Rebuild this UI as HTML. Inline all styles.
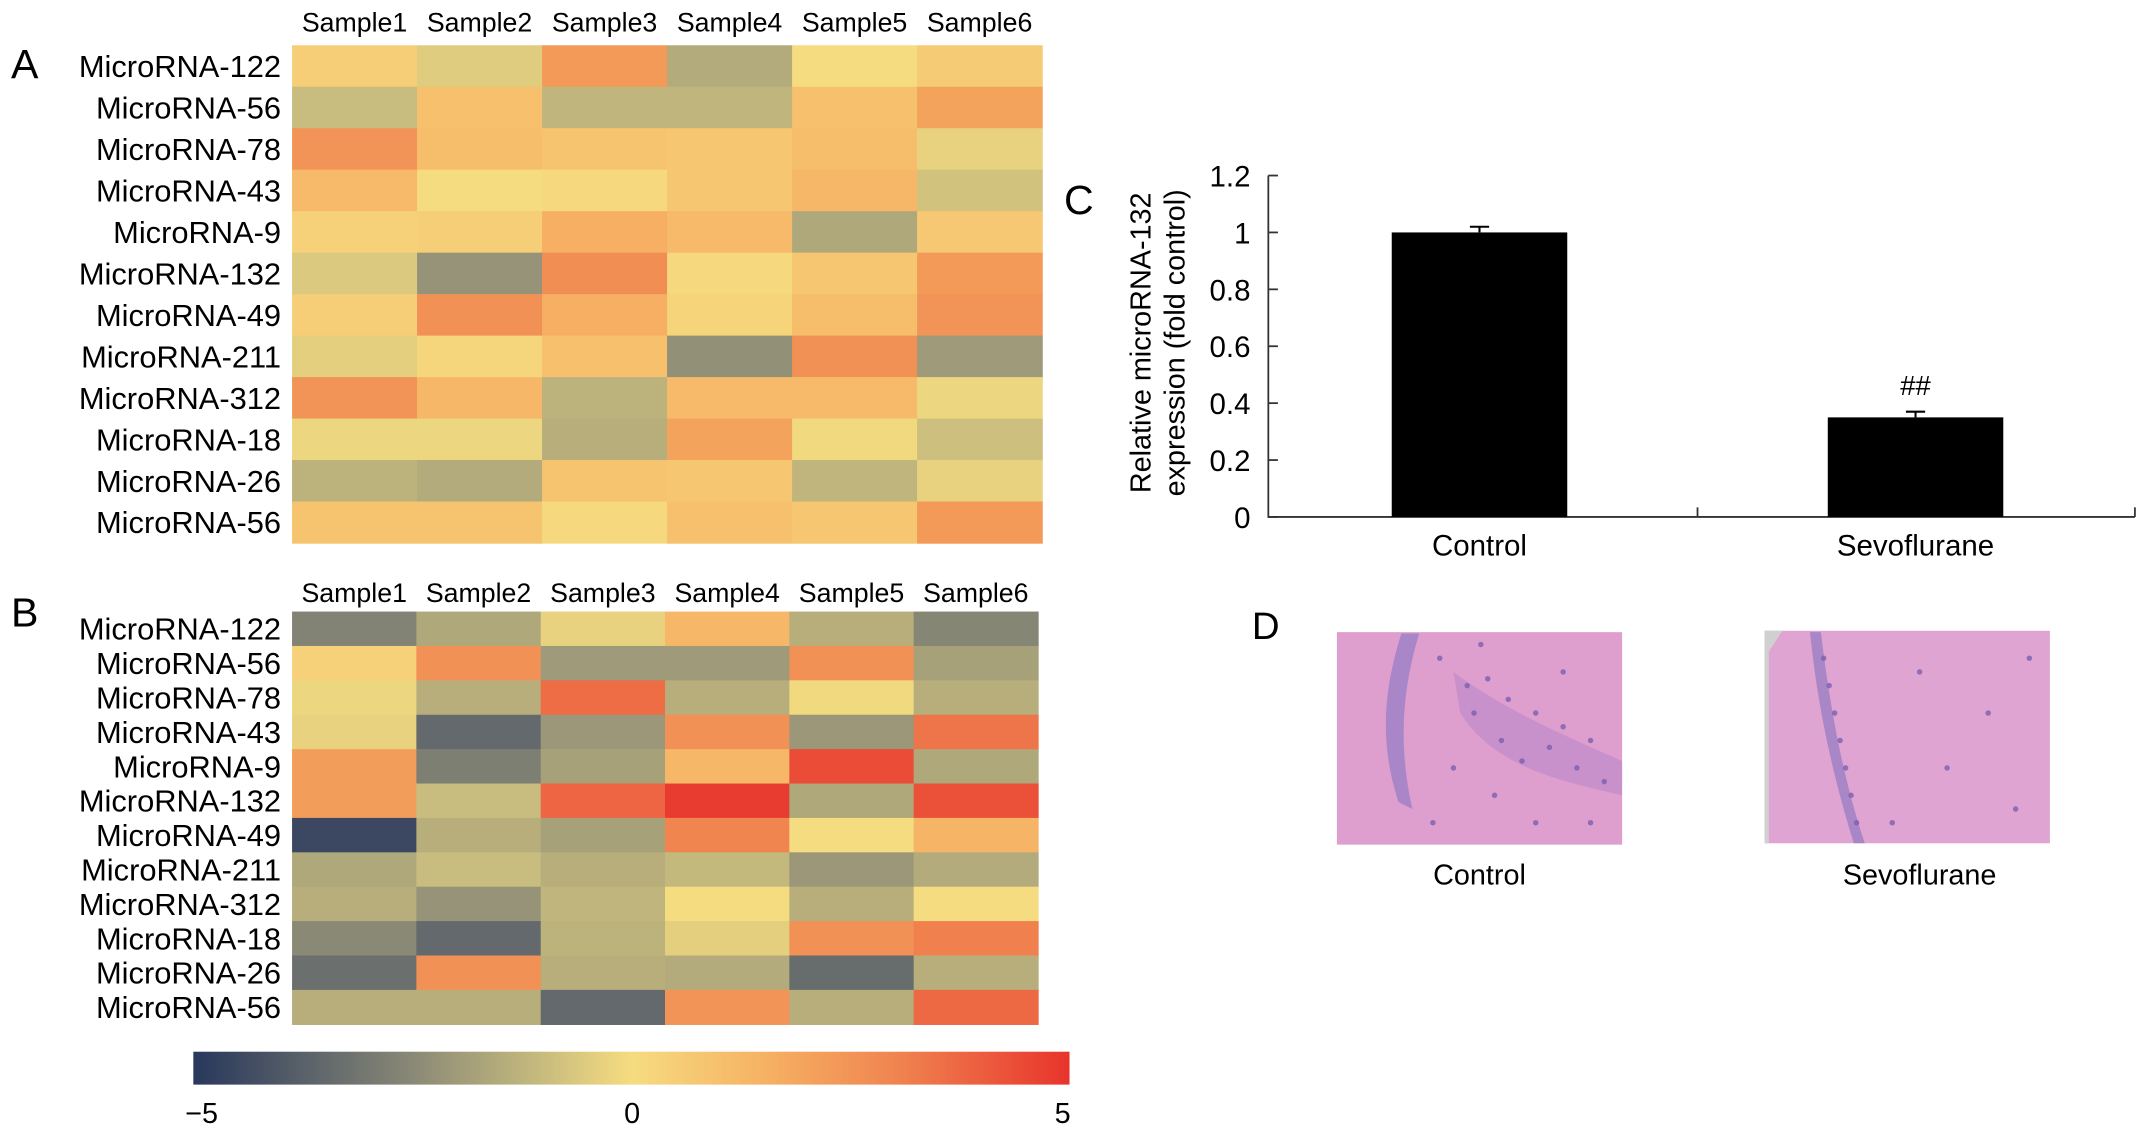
<!DOCTYPE html>
<html><head><meta charset="utf-8"><style>
html,body{margin:0;padding:0;background:#fff;}
svg{display:block;font-family:"Liberation Sans",sans-serif;}
</style></head><body>
<svg id="fig" width="2150" height="1134" viewBox="0 0 1568 827" xmlns="http://www.w3.org/2000/svg">
<g id="gA"></g>
<g id="gB"></g>
<g id="gCb"></g>
<g id="gC"></g>
<g id="gD">
  <rect x="975" y="461" width="208" height="155" fill="#de9fcf"/>
  <path d="M1022 462 C1010 500,1005 540,1020 585 L1030 590 C1020 545,1022 505,1035 462 Z" fill="#9b7fc4" opacity="0.8"/>
  <path d="M1060 490 C1100 520,1150 540,1183 555 L1183 580 C1140 570,1090 560,1065 520 Z" fill="#c08ccb" opacity="0.7"/>
  <rect x="1287" y="460" width="208" height="155" fill="#e0a4d2"/>
  <path d="M1287 460 L1300 460 L1290 475 L1290 615 L1287 615 Z" fill="#d0d0d0"/>
  <path d="M1320 461 L1328 461 C1335 520,1345 570,1360 615 L1352 615 C1338 570,1326 520,1320 461 Z" fill="#9b7fc4" opacity="0.8"/>
  <text x="913" y="466" font-size="28">D</text>
  <text x="1079" y="645" font-size="21" text-anchor="middle">Control</text>
  <text x="1400" y="645" font-size="21" text-anchor="middle">Sevoflurane</text>
</g>
</svg>
<script>
const NS="http://www.w3.org/2000/svg";
const samples=["Sample1","Sample2","Sample3","Sample4","Sample5","Sample6"];
const mirnas=["MicroRNA-122","MicroRNA-56","MicroRNA-78","MicroRNA-43","MicroRNA-9","MicroRNA-132","MicroRNA-49","MicroRNA-211","MicroRNA-312","MicroRNA-18","MicroRNA-26","MicroRNA-56"];
const valuesA=[
[0.5,-0.5,2.3,-1.5,0,0.6],
[-1.0,1.0,-1.2,-1.2,1.0,2.0],
[2.5,1.1,0.9,0.8,1.1,-0.3],
[1.2,0,0.1,0.8,1.3,-0.8],
[0.4,0.5,1.6,1.2,-1.6,0.7],
[-0.6,-2.2,2.7,0.1,0.8,2.3],
[0.5,2.6,1.6,0.3,1.1,2.5],
[-0.4,0.2,1.0,-2.3,2.6,-2.0],
[2.5,1.3,-1.3,1.2,1.2,-0.2],
[-0.2,-0.2,-1.4,2.0,-0.1,-0.9],
[-1.3,-1.5,0.9,0.8,-1.2,-0.3],
[0.9,0.9,0.1,1.0,0.8,2.3]];
const valuesB=[
[-2.7,-1.6,-0.3,1.3,-1.4,-2.6],
[0.4,2.6,-2.0,-2.0,2.6,-1.8],
[-0.2,-1.4,3.6,-1.4,-0.1,-1.4],
[-0.3,-3.5,-2.1,2.6,-2.1,3.4],
[2.2,-2.8,-1.8,1.3,4.4,-1.6],
[2.2,-1.0,3.8,4.8,-1.6,4.3],
[-4.5,-1.4,-1.8,3.0,0.0,1.4],
[-1.6,-1.0,-1.4,-1.1,-2.1,-1.5],
[-1.4,-2.2,-1.2,0.0,-1.4,0.0],
[-2.5,-3.5,-1.3,-0.4,2.6,3.1],
[-3.3,2.6,-1.4,-1.5,-3.4,-1.4],
[-1.4,-1.4,-3.5,2.5,-1.4,3.7]];
const cbTicks=[-5,0,5];
const barCats=["Control","Sevoflurane"];
const barVals=[1.0,0.35];
const barErr=[0.02,0.02];
const yTicks=[0,0.2,0.4,0.6,0.8,1,1.2];

const stops=[[-5,[40,56,92]],[-2.5,[138,137,118]],[-1,[200,188,126]],[0,[246,220,128]],[1.5,[246,178,100]],[3,[240,133,80]],[5,[232,52,44]]];
function cmap(v){v=Math.max(-5,Math.min(5,v));for(let i=0;i<stops.length-1;i++){const a=stops[i],b=stops[i+1];if(v<=b[0]){const t=(v-a[0])/(b[0]-a[0]);return "rgb("+a[1].map((c,k)=>Math.round(c+(b[1][k]-c)*t)).join(",")+")";}}return "rgb(232,52,44)";}
function mk(tag,attrs,parent,txt){const e=document.createElementNS(NS,tag);for(const k in attrs)e.setAttribute(k,attrs[k]);if(txt!==undefined)e.textContent=txt;parent.appendChild(e);return e;}

function heatmap(g,vals,x0,y0,w,h,labY,letter,letY){
  const cw=w/samples.length,rh=h/mirnas.length;
  vals.forEach((row,r)=>row.forEach((v,c)=>{
    const e=mk("rect",{x:x0+c*cw,y:y0+r*rh,width:cw+0.5,height:rh+0.5,fill:cmap(v)},g);
    
    
  }));
  samples.forEach((s,c)=>{
    const t=mk("text",{x:x0+(c+0.5)*cw,y:labY,"font-size":19.5,"text-anchor":"middle"},g,s);
    
    
  });
  mirnas.forEach((m,r)=>{
    const t=mk("text",{x:205,y:y0+(r+0.5)*rh+8,"font-size":22.5,"text-anchor":"end"},g,m);
    
    
  });
  const L=mk("text",{x:8,y:letY,"font-size":30},g,letter);
  
  
}
heatmap(document.getElementById("gA"),valuesA,213,33,547,363,23,"A",57);
heatmap(document.getElementById("gB"),valuesB,213,446,544,301,439,"B",457);

// colorbar
const gCb=document.getElementById("gCb");
const defs=mk("defs",{},gCb);
const lg=mk("linearGradient",{id:"cbg",x1:"0",x2:"1",y1:"0",y2:"0"},defs);
for(let i=0;i<=20;i++){const v=-5+i*0.5;mk("stop",{offset:(i/20),"stop-color":cmap(v)},lg);}
const cbX0=147,cbX1=775;
const cbr=mk("rect",{x:141,y:767,width:639,height:24,fill:"url(#cbg)"},gCb);


cbTicks.forEach(v=>{
  const x=cbX0+(v+5)/10*(cbX1-cbX0);
  const t=mk("text",{x:x,y:819,"font-size":21,"text-anchor":"middle"},gCb,v<0?"\u2212"+Math.abs(v):String(v));
  
  
});

// bar chart
const gC=document.getElementById("gC");
const axX=925,y0=377,yTop=128,xEnd=1557;
const ys=v=>y0-(v/1.2)*(y0-yTop);
const cx=i=>1079+i*318;
const ax=mk("path",{d:`M${axX} ${yTop} L${axX} ${y0} L${xEnd} ${y0} M1238 ${y0} L1238 ${y0-7} M${xEnd} ${y0} L${xEnd} ${y0-7}`,stroke:"#333","stroke-width":1.3,fill:"none"},gC);


yTicks.forEach(v=>{
  const y=ys(v);
  const tk=mk("line",{x1:axX,x2:axX+7,y1:y,y2:y,stroke:"#333","stroke-width":1.3},gC);
  
  
  const t=mk("text",{x:912,y:y+8,"font-size":21.5,"text-anchor":"end"},gC,String(v));
  
  
});
barCats.forEach((c,i)=>{
  const x=cx(i),w=128;
  const b=mk("rect",{x:x-w/2,y:ys(barVals[i]),width:w,height:y0-ys(barVals[i]),fill:"#000"},gC);
  
  
  const eT=ys(barVals[i]+barErr[i]);
  const er=mk("path",{d:`M${x} ${ys(barVals[i])} L${x} ${eT} M${x-7} ${eT} L${x+7} ${eT}`,stroke:"#000","stroke-width":1.5},gC);
  
  
  const t=mk("text",{x:x,y:405,"font-size":21.5,"text-anchor":"middle"},gC,c);
  
  
});
const sig=mk("text",{x:cx(1),y:ys(barVals[1]+barErr[1])-12,"font-size":20,"text-anchor":"middle"},gC,"##");


const yt=mk("text",{transform:"translate(839,250) rotate(-90)","font-size":21,"text-anchor":"middle"},gC);


mk("tspan",{x:0,y:0},yt,"Relative microRNA-132");
mk("tspan",{x:0,y:25},yt,"expression (fold control)");
const lc=mk("text",{x:776,y:156,"font-size":30},gC,"C");



// histology dots
const gD=document.getElementById("gD");
const dotsCtrl=[[1050,480],[1070,500],[1085,495],[1100,510],[1120,520],[1140,530],[1095,540],[1110,555],[1130,545],[1150,560],[1160,540],[1075,520],[1060,560],[1090,580],[1170,570],[1045,600],[1120,600],[1160,600],[1080,470],[1140,490]];
const dotsSevo=[[1330,480],[1334,500],[1338,520],[1342,540],[1346,560],[1350,580],[1354,600],[1400,490],[1450,520],[1420,560],[1470,590],[1380,600],[1480,480]];
dotsCtrl.concat(dotsSevo).forEach(p=>{
  const d=mk("circle",{cx:p[0],cy:p[1],r:2,fill:"#7a5fb0",opacity:0.8},gD);
  
  
});
</script>
</body></html>
